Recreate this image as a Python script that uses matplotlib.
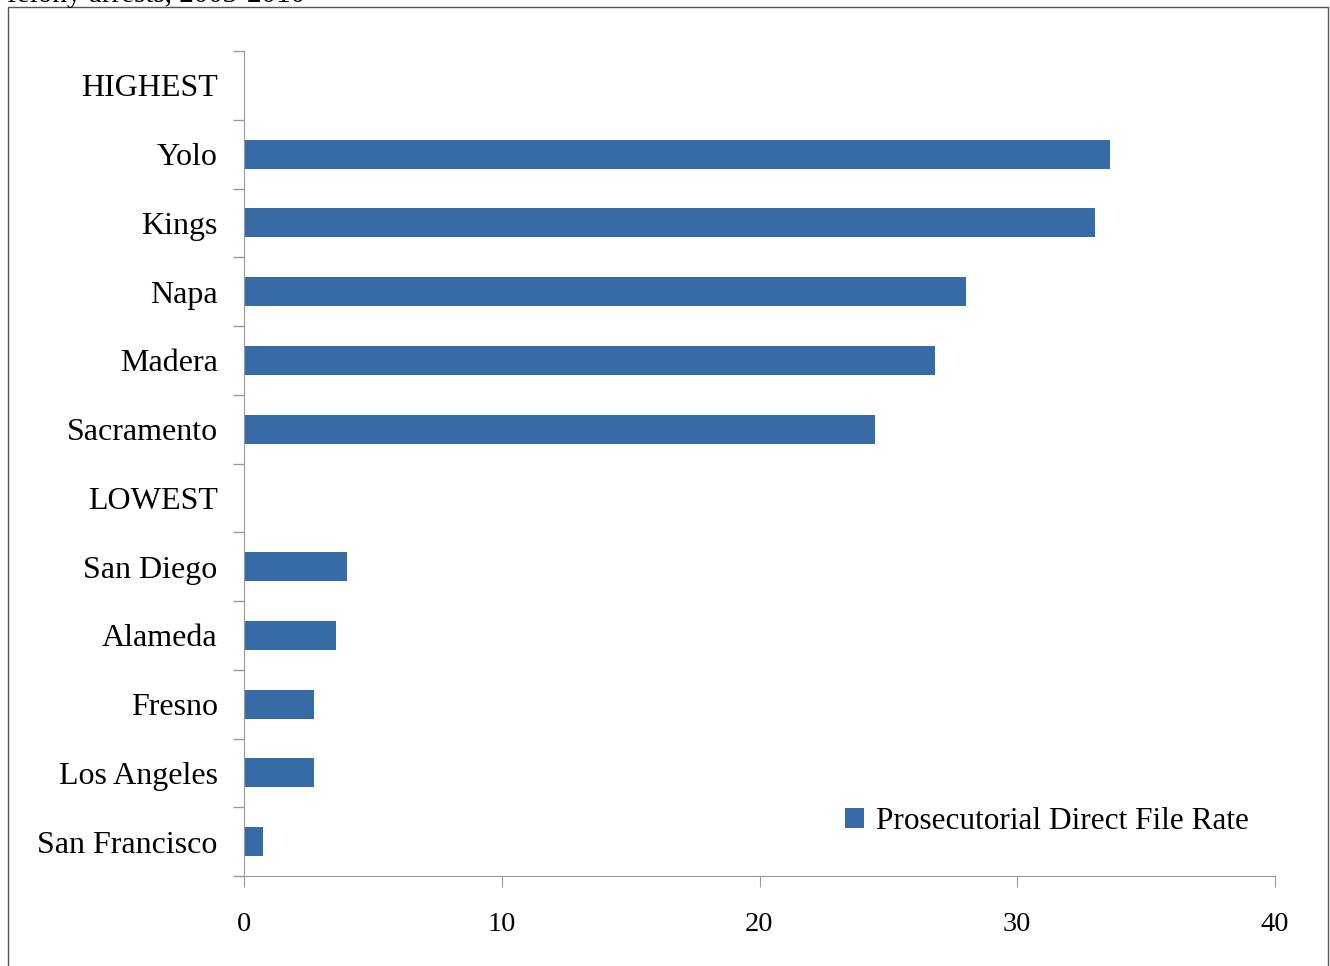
import numpy as np
import matplotlib
matplotlib.use('Agg')
import matplotlib.pyplot as plt
from matplotlib.patches import Rectangle

# counties, top to bottom
counties = ['HIGHEST', 'Yolo', 'Kings', 'Napa', 'Madera', 'Sacramento',
            'LOWEST', 'San Diego', 'Alameda', 'Fresno', 'Los Angeles', 'San Francisco']
rates = [0, 33.6, 33.0, 28.0, 26.8, 24.5, 0, 4.0, 3.55, 2.7, 2.7, 0.75]
x_ticks = [0, 10, 20, 30, 40]
series_name = 'Prosecutorial Direct File Rate'

plt.rcParams['font.family'] = ['Liberation Serif', 'DejaVu Serif']

fig = plt.figure(figsize=(13.3, 9.66), dpi=100)
ax = fig.add_axes([244 / 1330, 1 - 876 / 966, 1031 / 1330, 825 / 966])

n = len(counties)
ypos = np.arange(n)[::-1]
heights = [0 if c in ('HIGHEST', 'LOWEST') else r for c, r in zip(counties, rates)]
ax.barh(ypos, heights, height=0.42, color='#376BA5', label=series_name, zorder=2)

ax.set_xlim(0, 40)
ax.set_ylim(-0.5, n - 0.5)
ax.set_xticks(x_ticks)
ax.set_xticklabels([str(t) for t in x_ticks], fontsize=20.5)
ax.set_yticks(ypos)
ax.set_yticklabels(counties, fontsize=23)
ax.tick_params(axis='y', length=0, pad=19)
ax.tick_params(axis='x', length=8, color='#999999', pad=18)

# category boundary ticks on y-axis
ax.set_yticks(np.arange(-0.5, n, 1.0), minor=True)
ax.tick_params(axis='y', which='minor', length=8, color='#999999', width=1)

for s in ['top', 'right']:
    ax.spines[s].set_visible(False)
for s in ['left', 'bottom']:
    ax.spines[s].set_color('#999999')

leg = ax.legend(loc='lower right', bbox_to_anchor=(1.002, 0.014), frameon=False,
                fontsize=22.5, handlelength=0.6, handleheight=0.6, handletextpad=0.4)

# outer chart border
fig.patches.append(Rectangle((8 / 1330, -0.05), 1320 / 1330, 1.0 - 7 / 966 + 0.05,
                             transform=fig.transFigure, fill=False,
                             edgecolor='#555555', linewidth=1))
# clipped title from the page above
fig.text(0.005, 1 - 2 / 966, 'felony arrests, 2003-2010', fontsize=21,
         va='baseline', ha='left')

fig.savefig('out.png', dpi=100)
